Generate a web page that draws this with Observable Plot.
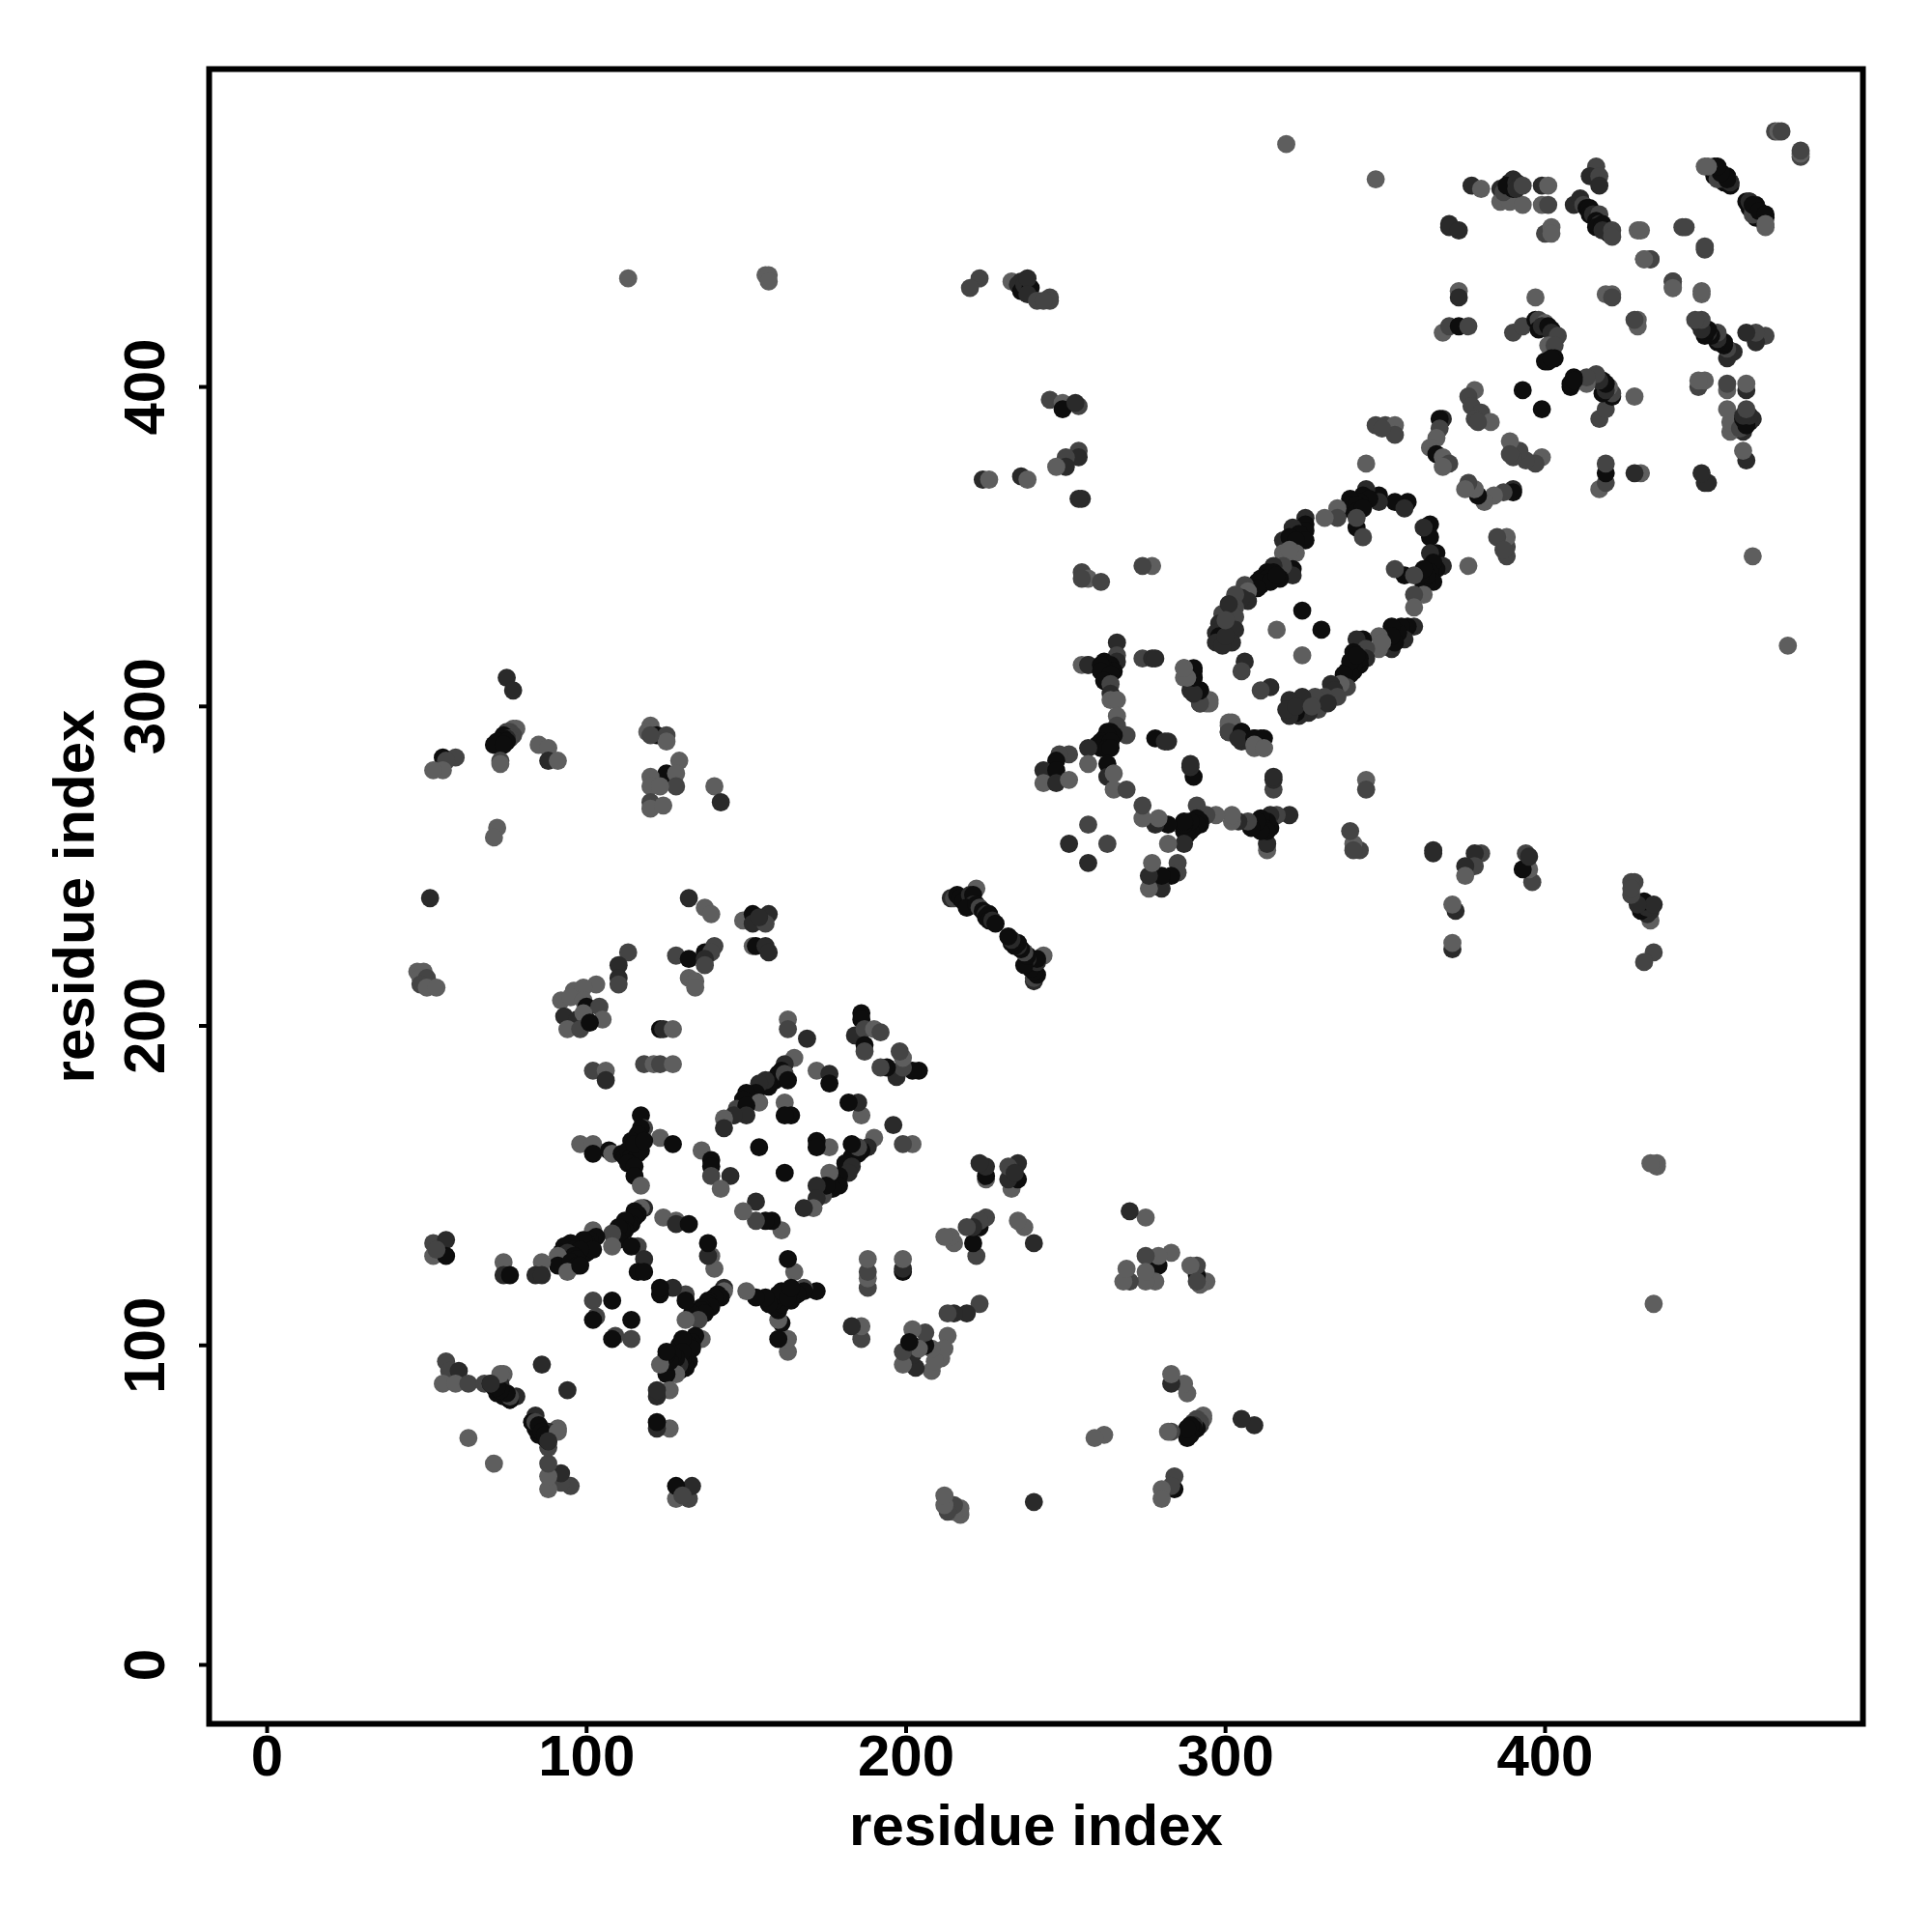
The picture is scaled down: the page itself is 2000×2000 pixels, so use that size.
<!DOCTYPE html>
<html>
<head>
<meta charset="utf-8">
<script src="https://cdn.jsdelivr.net/npm/d3@7"></script>
<script src="https://cdn.jsdelivr.net/npm/@observablehq/plot@0.6"></script>
<style>html,body{margin:0;padding:0;background:#fff}svg{display:block}</style>
</head>
<body>
<div id="chart"></div>
<script>
const farCorner = [[472,480,2],[473,480,1],[474,480,2],[450,469,1],[453,469,4],[454,468,4],[455,467,4],[453,466,4],[456,464,4],[457,464,4],[458,464,4],[455,466,4],[456,466,3],[457,466,4],[463,458,4],[464,457,4],[465,456,3],[466,456,4],[465,454,2],[464,458,3],[465,457,4],[467,455,4],[469,454,4],[469,451,1],[443,450,2],[444,450,2]];
const block380 = [[377,463,3],[380,462,1],[386,462,3],[389,464,4],[390,465,3],[386,458,1],[389,458,1],[393,457,1],[387,461,2],[390,462,4],[388,463,4],[391,464,3],[392,463,3],[391,462,3],[393,463,2],[399,463,3],[401,463,1],[399,457,1],[401,457,2],[370,451,3],[370,450,3],[373,449,3],[400,448,2],[402,450,1],[402,448,1]];
const block410 = [[416,469,2],[414,466,3],[417,466,2],[417,463,3],[409,457,3],[411,459,3],[412,457,2],[413,456,4],[414,456,4],[414,454,4],[415,454,3],[417,454,2],[416,452,4],[417,451,3],[416,450,4],[418,451,4],[419,449,4],[420,448,4],[418,449,3],[421,449,2],[421,447,2],[429,449,1],[430,449,1],[431,440,1],[433,440,3],[440,433,2],[440,431,1],[419,429,1],[421,429,1],[421,428,2]];
const block370 = [[373,430,1],[373,428,3],[397,428,1],[368,417,1],[370,419,2],[373,419,4],[376,419,2],[390,417,2],[393,419,2],[397,421,4],[398,421,2],[400,420,1],[398,418,4],[399,419,3],[402,418,4],[401,419,4],[402,417,3],[404,416,2],[401,413,1],[403,413,2],[400,408,4],[403,409,4],[401,408,4],[402,409,4],[393,399,4]];
const nearDiag380 = [[378,399,1],[376,397,2],[377,394,2],[380,392,2],[378,390,2],[383,389,1],[379,389,2],[368,390,3],[367,390,4],[367,387,2],[366,384,1],[364,381,1],[366,379,4],[368,378,1],[370,376,2],[368,375,1]];
const farLeft = [[319,476,1],[347,465,1],[113,434,1],[156,435,1],[157,435,1],[157,433,1],[223,434,2],[220,431,2],[233,433,1],[236,433,3],[235,432,3],[236,430,4],[237,432,3],[239,431,4],[238,434,3],[238,429,3],[241,427,2],[245,428,2],[245,427,2],[243,427,2],[245,396,2],[249,395,1],[249,393,4],[254,394,2],[253,395,3],[254,380,2],[254,378,3],[250,378,2],[250,375,3],[247,375,1],[224,371,3],[226,371,1],[236,372,3],[238,371,1],[255,365,3],[254,365,3],[344,376,1],[347,388,2],[350,388,2],[353,388,1],[353,385,2],[349,387,2]];
const ellipseArc = [[357,364,4],[353,364,4],[356,362,3],[348,366,4],[348,364,3],[344,368,3],[343,366,4],[345,365,4],[342,364,4],[339,365,4],[338,362,4],[339,363,4],[340,362,4],[341,363,4],[341,361,4],[343,362,4],[341,356,4],[343,353,2],[341,359,2],[335,362,1],[335,359,2],[331,359,1],[325,359,3],[325,357,4],[325,355,4],[321,356,3],[323,354,4],[325,352,4],[318,352,3],[320,353,4],[322,352,4],[318,348,1],[322,348,1],[320,349,1],[321,343,4],[321,341,3],[318,344,2],[315,344,3],[313,342,4],[315,342,4],[317,340,4],[312,340,4],[311,340,4],[313,340,4],[311,338,4],[309,338,4],[310,339,4],[314,339,4],[316,341,4],[310,337,4],[306,338,2],[307,336,1],[307,333,3],[305,334,3],[303,335,2],[303,331,2],[303,328,2],[299,329,2],[301,332,3],[298,326,3],[303,324,3],[297,323,3],[298,322,4],[297,320,3],[302,320,3],[299,319,3],[300,322,3],[300,327,2]];
const ellipseCore = [[324,330,4],[316,324,1],[306,314,3],[305,311,2]];
const block270 = [[277,344,1],[274,344,2],[255,342,2],[257,340,1],[255,340,2],[261,339,2],[274,315,2],[277,315,3],[278,315,3],[278,290,4],[281,289,3],[282,289,3],[287,312,2],[290,311,4],[290,309,4],[287,309,1],[289,305,3],[292,305,4],[294,301,1],[292,301,3],[295,302,1],[301,295,1],[301,292,2],[305,292,4],[304,290,3],[309,290,4],[312,290,4],[309,288,1],[312,287,1]];
const star260 = [[266,320,3],[266,316,2],[262,314,4],[257,313,1],[255,313,1],[257,313,3],[266,314,3],[264,313,4],[265,311,4],[262,312,4],[263,310,4],[261,313,4],[261,311,4],[264,310,4],[262,308,4],[264,307,2],[264,304,3],[264,302,1],[266,302,1],[266,297,1],[266,294,2],[269,291,2],[263,292,4],[264,292,4],[265,291,4],[262,290,4],[263,291,4],[260,288,4],[261,289,4],[262,288,4],[261,287,4],[264,289,4],[263,287,4],[264,287,4],[257,287,3],[257,282,1],[251,285,2],[248,285,2],[247,283,4],[243,280,3],[247,280,4],[243,276,1],[247,276,3],[251,277,1],[263,282,4],[263,278,3],[265,279,1],[265,274,1],[269,274,2],[257,263,2],[251,257,3]];
const stripe225 = [[214,240,3],[215,240,2],[216,241,4],[217,240,4],[222,243,1],[219,240,4],[218,239,4],[220,239,4],[220,241,3],[221,241,4],[221,238,3],[219,237,4],[222,238,4],[223,237,2],[224,236,4],[225,235,3],[226,235,4],[225,234,4],[226,233,4],[227,233,3],[228,232,4]];
const block75 = [[75,309,3],[77,305,3],[78,293,1],[77,293,1],[75,292,2],[76,292,2],[77,291,2],[74,291,4],[76,290,2],[75,290,3],[74,290,4],[73,289,4],[72,289,4],[75,289,4],[71,288,4],[74,288,4],[73,283,2],[73,282,1],[85,288,1],[88,287,1],[88,283,3],[91,283,1],[55,284,4],[59,284,2],[56,283,2],[55,280,1],[52,280,1],[72,262,1],[71,259,1],[51,240,3]];
const block120 = [[120,294,1],[119,292,1],[122,291,4],[125,291,2],[125,289,1],[120,291,2],[129,283,1],[125,279,4],[128,279,1],[128,275,2],[120,278,1],[120,275,1],[123,275,1],[120,270,2],[120,268,1],[124,269,1],[140,275,1],[142,270,3]];
const block140 = [[132,240,3],[137,237,1],[139,235,1],[149,233,1],[152,235,4],[152,232,3],[157,235,3],[156,232,2],[154,234,3],[152,225,1],[153,225,4],[156,225,3],[157,223,3],[113,223,2],[110,219,3],[110,215,3],[110,213,2],[128,222,2],[132,221,4],[137,223,4],[140,225,2],[139,223,2],[137,221,3],[137,219,2],[132,215,1],[134,214,1],[134,212,1]];
const block48 = [[47,217,1],[49,217,1],[48,215,1],[50,215,2],[48,213,2],[50,212,1],[53,212,1]];
const block100 = [[103,213,1],[96,211,1],[99,212,1],[92,208,1],[95,209,1],[99,208,1],[100,206,4],[104,206,2],[93,203,3],[97,202,3],[100,202,3],[99,204,1],[105,202,1],[94,199,1],[98,199,2],[101,201,4],[123,199,4],[124,199,3],[127,199,1]];
const block165 = [[163,202,1],[163,199,2],[169,196,3],[165,190,1],[162,188,3],[161,186,4],[160,185,4],[159,183,4],[158,183,4],[157,181,4],[156,183,3],[162,185,2],[163,183,4],[154,182,3],[153,179,4],[152,177,4],[150,179,4],[154,176,1],[149,177,4],[148,174,4],[147,174,2],[150,175,4],[150,172,3],[146,172,3],[143,171,1],[143,168,3],[172,186,1],[176,185,3],[176,182,4],[162,176,1],[164,172,4],[162,172,4],[136,161,1],[139,158,4],[139,156,4],[139,153,2],[145,153,3],[142,149,1],[154,162,4]];
const block186 = [[186,204,4],[186,202,4],[184,197,3],[187,199,2],[190,199,1],[192,198,2],[187,194,4],[187,192,2]];
const star115 = [[117,172,4],[118,168,2],[117,168,4],[116,166,4],[114,164,4],[123,165,1],[127,163,4],[98,163,1],[102,163,1],[102,160,4],[107,161,4],[108,160,1],[111,160,4],[112,159,4],[113,161,4],[114,159,4],[116,160,4],[117,161,4],[115,163,4],[118,164,4],[113,157,4],[115,156,4],[115,153,4],[117,150,1]];
const arm105 = [[118,143,3],[117,143,1],[116,141,4],[115,142,4],[115,140,4],[114,138,4],[113,138,4],[112,139,4],[112,136,4],[111,136,4],[110,137,4],[110,133,4],[108,135,2],[102,136,1],[103,134,4],[101,133,4],[100,132,4],[99,133,4],[95,132,4],[93,131,4],[96,130,4],[100,129,4],[102,130,4],[98,130,4],[92,129,4],[94,129,3],[96,128,4],[97,127,4],[91,128,1],[91,125,4],[95,126,4],[97,125,4],[94,123,1],[108,131,1],[98,125,4],[116,131,2],[114,131,4],[118,127,3],[116,123,4],[118,123,4],[124,140,1],[128,139,1],[128,138,3],[132,138,4]];
const block80 = [[86,126,1],[84,122,3],[86,122,3],[74,126,1],[74,122,3],[76,122,4],[52,132,2],[56,133,3],[52,128,1],[56,128,4],[53,130,2],[102,114,2],[108,114,4],[103,109,2],[102,108,4]];
const block190 = [[102,186,2],[106,186,1],[106,183,3],[118,188,2],[121,188,1],[123,188,2],[127,188,1]];
const block60 = [[56,95,2],[57,92,2],[60,92,3],[55,88,1],[59,88,1],[63,88,2],[68,88,2],[70,88,4],[71,87,4],[74,91,1],[72,85,4],[73,88,3],[75,85,2],[76,83,4],[74,84,4],[78,84,3],[86,94,3],[63,71,1],[83,76,4],[84,76,2],[85,75,4],[86,73,4],[87,72,4],[91,73,1],[88,70,3]];

const tickValues = [0, 100, 200, 300, 400];
const axisLabel = "residue index";

const groups = [farCorner, block380, block410, block370, nearDiag380, farLeft, ellipseArc, ellipseCore, block270, star260, stripe225, block75, block120, block140, block48, block100, block165, block186, star115, arm105, block80, block190, block60];
const contacts = groups.flat().flatMap(([i, j, s]) => [{x: i, y: j, s}, {x: j, y: i, s}]);

const font = "'Liberation Sans', Arial, sans-serif";
const chart = Plot.plot({
  width: 2000,
  height: 2000,
  marginLeft: 216,
  marginRight: 72,
  marginTop: 71,
  marginBottom: 216,
  style: {fontFamily: font, background: "#fff", color: "#000"},
  x: {domain: [-18.15, 499.5]},
  y: {domain: [-18.45, 499.5]},
  color: {type: "ordinal", domain: [1, 2, 3, 4], range: ["#5e5e5e", "#444444", "#2a2a2a", "#0d0d0d"]},
  marks: [
    Plot.dot(contacts, {x: "x", y: "y", fill: "s", r: 9.4}),
    Plot.frame({stroke: "#000", strokeWidth: 6}),
    Plot.axisX({ticks: tickValues, tickSize: 10, strokeWidth: 4, tickPadding: 1, fontSize: 60, fontWeight: "bold", label: axisLabel, labelAnchor: "center", labelArrow: "none", labelOffset: 125, tickFormat: d => String(d)}),
    Plot.axisY({ticks: tickValues, tickSize: 10, strokeWidth: 4, tickPadding: 37, tickRotate: -90, fontSize: 60, fontWeight: "bold", label: axisLabel, labelAnchor: "center", labelArrow: "none", labelOffset: 162, tickFormat: d => String(d)})
  ]
});
document.getElementById("chart").appendChild(chart);
</script>
</body>
</html>
